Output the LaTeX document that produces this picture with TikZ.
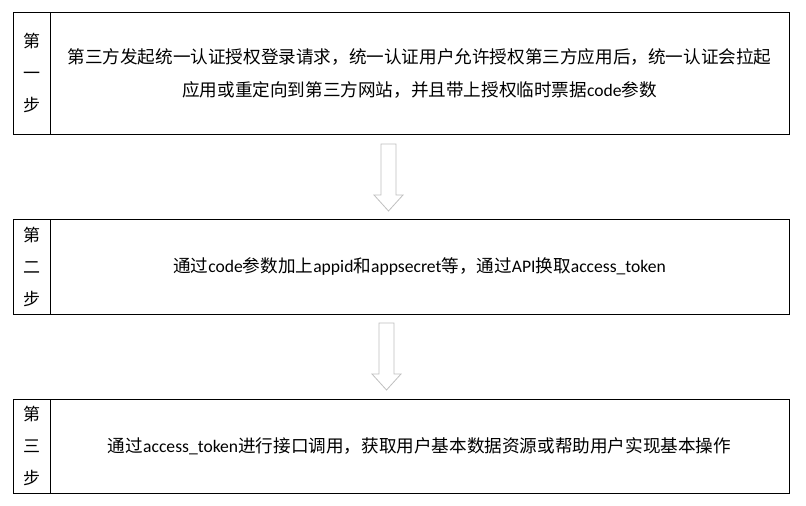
\documentclass[tikz,border=0pt]{standalone}
\usepackage{fontspec}
\setmainfont{Noto Sans CJK SC}
\newfontfamily\latinfont{Carlito}
\newcommand{\en}[1]{{\latinfont #1}}
\usetikzlibrary{positioning,calc}
\definecolor{arrowgray}{HTML}{BFBFBF}
% hollow block arrow pointing down, top centre at #1
\newcommand{\flowarrow}[1]{\draw[hollow] (#1) ++(-7.5,0) -- ++(15,0) -- ++(0,51) -- ++(7,0) -- ++(-14.5,16) -- ++(-14.5,-16) -- ++(7,0) -- cycle;}

\begin{document}
\begin{tikzpicture}[
    x=1pt, y=-1pt,
    cell/.style={draw, line width=0.9pt, inner sep=0pt, outer sep=0pt, minimum height=#1},
    steplab/.style={cell=#1, minimum width=36.5pt, align=center, font=\fontsize{17}{32}\selectfont},
    stepbody/.style={cell=#1, minimum width=739pt, align=center, font=\fontsize{17.6}{33}\selectfont},
    hollow/.style={draw=arrowgray, line width=0.8pt, line join=miter}
]
  \useasboundingbox (0,0) rectangle (806,506);

  % step 1
  \node[steplab=122pt] (s1lab) at (31.75,73) {第\\一\\步};
  \node[stepbody=122pt, right=0pt of s1lab] (s1body)
       {第三方发起统一认证授权登录请求，统一认证用户允许授权第三方应用后，统一认证会拉起\\
        应用或重定向到第三方网站，并且带上授权临时票据\en{code}参数};

  % step 2
  \node[steplab=95pt] (s2lab) at (31.75,266.5) {第\\二\\步};
  \node[stepbody=95pt, right=0pt of s2lab] (s2body)
       {通过\en{code}参数加上\en{appid}和\en{appsecret}等，通过\en{API}换取\en{access\_token}};

  % step 3
  \node[steplab=94pt] (s3lab) at (31.75,446) {第\\三\\步};
  \node[stepbody=94pt, right=0pt of s3lab] (s3body)
       {通过\en{access\_token}进行接口调用，获取用户基本数据资源或帮助用户实现基本操作};

  \coordinate (a1) at ($(s1body.south)+(-31,10)$);
  \coordinate (a2) at ($(s2body.south)+(-33,9)$);
  \flowarrow{a1}
  \flowarrow{a2}
\end{tikzpicture}
\end{document}
